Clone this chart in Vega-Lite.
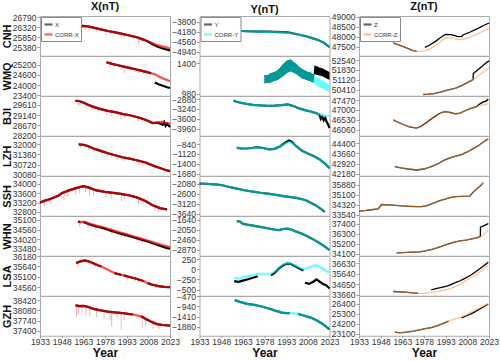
{
"$schema":"https://vega.github.io/schema/vega-lite/v6.json",
"background":"white",
"padding":{"left":0,"top":0,"right":0,"bottom":0},
"data":{"values":[
{"p":"CNHX","t":1957,"o":26290,"k":26290},{"p":"CNHX","t":1960,"o":26360,"k":26360},{"p":"CNHX","t":1963,"o":26380,"k":26380},{"p":"CNHX","t":1966,"o":26360,"k":26360},{"p":"CNHX","t":1970,"o":26300,"k":26300},{"p":"CNHX","t":1975,"o":26220,"k":26220},{"p":"CNHX","t":1980,"o":26140,"k":26140},{"p":"CNHX","t":1985,"o":26080,"k":26080},{"p":"CNHX","t":1990,"o":26010,"k":26010},{"p":"CNHX","t":1995,"o":25930,"k":25930},{"p":"CNHX","t":2000,"o":25850,"k":25850},{"p":"CNHX","t":2005,"o":25730,"k":25730},{"p":"CNHX","t":2008,"o":25640,"k":25650},{"p":"CNHX","t":2010,"o":25560,"k":25600},{"p":"CNHX","t":2013,"o":25450,"k":25510},{"p":"CNHX","t":2015,"o":25400,"k":25470},{"p":"CNHX","t":2018,"o":25330,"k":25420},{"p":"CNHX","t":2020,"o":25290,"k":25390},{"p":"CNHX","t":2023,"o":25240,"k":25330},
{"p":"CNHX","t":1958.2,"a":26310,"b":26050},{"p":"CNHX","t":1960.8,"a":26360,"b":26150},{"p":"CNHX","t":1964.2,"a":26380,"b":26200},{"p":"CNHX","t":1967.1,"a":26350,"b":26150},{"p":"CNHX","t":1972.3,"a":26270,"b":26120},{"p":"CNHX","t":1978.6,"a":26160,"b":25980},{"p":"CNHX","t":1982.1,"a":26110,"b":26000},{"p":"CNHX","t":1989.3,"a":26020,"b":25800},{"p":"CNHX","t":1991.1,"a":25990,"b":25850},{"p":"CNHX","t":1997.2,"a":25900,"b":25780},{"p":"CNHX","t":2001.4,"a":25820,"b":25500},{"p":"CNHX","t":2003.6,"a":25780,"b":25620},{"p":"CNHX","t":2015.2,"a":25470,"b":25380},
{"p":"WMQX","t":1979,"o":25360,"k":25360},{"p":"WMQX","t":1983,"o":25260,"k":25260},{"p":"WMQX","t":1987,"o":25180,"k":25180},{"p":"WMQX","t":1991,"o":25100,"k":25100},{"p":"WMQX","t":1995,"o":25020,"k":25020},{"p":"WMQX","t":1999,"o":24940,"k":24940},{"p":"WMQX","t":2003,"o":24860,"k":24860},{"p":"WMQX","t":2007,"o":24770,"k":24770},{"p":"WMQX","t":2010,"o":24700,"k":24700},{"p":"WMQX","t":2012.5,"o":24150,"k":24640,"g":2},{"p":"WMQX","t":2015,"o":24050,"k":24530,"g":2},{"p":"WMQX","t":2018,"o":23960,"k":24410,"g":2},{"p":"WMQX","t":2021,"o":23870,"k":24300,"g":2},{"p":"WMQX","t":2023,"o":23820,"k":24230,"g":2},
{"p":"WMQX","t":1981.5,"a":25290,"b":25050},{"p":"WMQX","t":1984.3,"a":25230,"b":25080},{"p":"WMQX","t":1989.2,"a":25140,"b":24900},{"p":"WMQX","t":1991.4,"a":25100,"b":24700},{"p":"WMQX","t":1995.6,"a":25010,"b":24850},{"p":"WMQX","t":1998.7,"a":24950,"b":24750},{"p":"WMQX","t":2001.3,"a":24900,"b":24700},{"p":"WMQX","t":2004.8,"a":24820,"b":24650},{"p":"WMQX","t":2015.6,"a":24510,"b":24350},
{"p":"BJIX","t":1957.5,"o":29800,"k":29800},{"p":"BJIX","t":1960,"o":29790,"k":29790},{"p":"BJIX","t":1963,"o":29720,"k":29720},{"p":"BJIX","t":1967,"o":29600,"k":29600},{"p":"BJIX","t":1971,"o":29500,"k":29500},{"p":"BJIX","t":1975,"o":29420,"k":29420},{"p":"BJIX","t":1980,"o":29340,"k":29340},{"p":"BJIX","t":1985,"o":29280,"k":29280},{"p":"BJIX","t":1990,"o":29200,"k":29200},{"p":"BJIX","t":1995,"o":29140,"k":29140},{"p":"BJIX","t":2000,"o":29060,"k":29060},{"p":"BJIX","t":2004,"o":28980,"k":28980},{"p":"BJIX","t":2008,"o":28880,"k":28880},{"p":"BJIX","t":2011,"o":28780,"k":28780},{"p":"BJIX","t":2014,"o":28800,"k":28800},{"p":"BJIX","t":2016,"o":28760,"k":28820},{"p":"BJIX","t":2018,"o":28700,"k":28850},{"p":"BJIX","t":2019,"o":28820,"k":28830},{"p":"BJIX","t":2020,"o":28650,"k":28790},{"p":"BJIX","t":2021,"o":28750,"k":28780},{"p":"BJIX","t":2023,"o":28600,"k":28760},
{"p":"BJIX","t":1959.4,"a":29790,"b":29550},{"p":"BJIX","t":1960.6,"a":29790,"b":29600},{"p":"BJIX","t":1965.3,"a":29650,"b":29450},{"p":"BJIX","t":1968.9,"a":29570,"b":29380},{"p":"BJIX","t":1973.6,"a":29450,"b":29300},{"p":"BJIX","t":1979.2,"a":29350,"b":29150},{"p":"BJIX","t":1982.4,"a":29310,"b":29100},{"p":"BJIX","t":1989.1,"a":29210,"b":28950},{"p":"BJIX","t":1991.6,"a":29180,"b":29000},{"p":"BJIX","t":2000.8,"a":29050,"b":28850},{"p":"BJIX","t":2003.7,"a":28990,"b":28800},
{"p":"LZHX","t":1959.8,"o":31980,"k":31980},{"p":"LZHX","t":1963,"o":31960,"k":31960},{"p":"LZHX","t":1966,"o":31880,"k":31880},{"p":"LZHX","t":1970,"o":31730,"k":31730},{"p":"LZHX","t":1975,"o":31580,"k":31580},{"p":"LZHX","t":1980,"o":31430,"k":31430},{"p":"LZHX","t":1985,"o":31300,"k":31300},{"p":"LZHX","t":1990,"o":31180,"k":31180},{"p":"LZHX","t":1995,"o":31090,"k":31090},{"p":"LZHX","t":2000,"o":30990,"k":30990},{"p":"LZHX","t":2006,"o":30850,"k":30850},{"p":"LZHX","t":2009,"o":30740,"k":30740},{"p":"LZHX","t":2013,"o":30600,"k":30600},{"p":"LZHX","t":2017,"o":30470,"k":30470},{"p":"LZHX","t":2020,"o":30380,"k":30380},{"p":"LZHX","t":2023,"o":30310,"k":30310},
{"p":"LZHX","t":1960.9,"a":31990,"b":31750},{"p":"LZHX","t":1966.8,"a":31860,"b":31600},{"p":"LZHX","t":1970.5,"a":31720,"b":31500},{"p":"LZHX","t":1975.4,"a":31570,"b":31350},{"p":"LZHX","t":1979.6,"a":31440,"b":31200},{"p":"LZHX","t":1982.2,"a":31360,"b":31150},{"p":"LZHX","t":1986.5,"a":31270,"b":31000},{"p":"LZHX","t":1989.3,"a":31200,"b":31000},{"p":"LZHX","t":1991.7,"a":31150,"b":30950},{"p":"LZHX","t":2001.4,"a":30970,"b":30700},{"p":"LZHX","t":2004.1,"a":30900,"b":30650},{"p":"LZHX","t":2012.3,"a":30620,"b":30450},
{"p":"SSHX","t":1933,"o":33200,"k":33200},{"p":"SSHX","t":1936,"o":33270,"k":33270},{"p":"SSHX","t":1940,"o":33350,"k":33350},{"p":"SSHX","t":1944,"o":33450,"k":33450},{"p":"SSHX","t":1946,"o":33500,"k":33500},{"p":"SSHX","t":1948,"o":33600,"k":33600},{"p":"SSHX","t":1953,"o":33720,"k":33720},{"p":"SSHX","t":1958,"o":33820,"k":33820},{"p":"SSHX","t":1963,"o":33900,"k":33900},{"p":"SSHX","t":1967,"o":33840,"k":33840},{"p":"SSHX","t":1972,"o":33720,"k":33720},{"p":"SSHX","t":1978,"o":33660,"k":33660},{"p":"SSHX","t":1985,"o":33600,"k":33600},{"p":"SSHX","t":1990,"o":33560,"k":33560},{"p":"SSHX","t":1995,"o":33500,"k":33500},{"p":"SSHX","t":2000,"o":33420,"k":33420},{"p":"SSHX","t":2006,"o":33260,"k":33260},{"p":"SSHX","t":2011,"o":33080,"k":33080},{"p":"SSHX","t":2016,"o":32960,"k":32960},{"p":"SSHX","t":2021,"o":32900,"k":32900},
{"p":"SSHX","t":1936.2,"a":33270,"b":33050},{"p":"SSHX","t":1940.5,"a":33350,"b":33150},{"p":"SSHX","t":1949.6,"a":33620,"b":33300},{"p":"SSHX","t":1952.3,"a":33700,"b":33450},{"p":"SSHX","t":1957.8,"a":33810,"b":33550},{"p":"SSHX","t":1960.2,"a":33860,"b":33600},{"p":"SSHX","t":1964.5,"a":33900,"b":33650},{"p":"SSHX","t":1967.3,"a":33830,"b":33500},{"p":"SSHX","t":1970.1,"a":33760,"b":33500},{"p":"SSHX","t":1978.6,"a":33660,"b":33450},{"p":"SSHX","t":1982.3,"a":33630,"b":33350},{"p":"SSHX","t":1989.5,"a":33560,"b":33250},{"p":"SSHX","t":1991.4,"a":33540,"b":33350},{"p":"SSHX","t":2001.2,"a":33400,"b":33150},{"p":"SSHX","t":2004.3,"a":33320,"b":33100},{"p":"SSHX","t":2012.6,"a":33040,"b":32850},{"p":"SSHX","t":2015.1,"a":32980,"b":32800},
{"p":"WHNX","t":1959.3,"o":35000,"k":35000,"g":1},{"p":"WHNX","t":1961,"o":34980,"k":34980,"g":1},{"p":"WHNX","t":1963,"o":34990,"k":35000},{"p":"WHNX","t":1967,"o":34860,"k":34900},{"p":"WHNX","t":1972,"o":34730,"k":34780},{"p":"WHNX","t":1977,"o":34630,"k":34690},{"p":"WHNX","t":1982,"o":34500,"k":34560},{"p":"WHNX","t":1987,"o":34370,"k":34430},{"p":"WHNX","t":1992,"o":34260,"k":34320},{"p":"WHNX","t":1997,"o":34140,"k":34200},{"p":"WHNX","t":2002,"o":34020,"k":34080},{"p":"WHNX","t":2007,"o":33900,"k":33960},{"p":"WHNX","t":2012,"o":33760,"k":33830},{"p":"WHNX","t":2017,"o":33620,"k":33710},{"p":"WHNX","t":2021,"o":33520,"k":33620},{"p":"WHNX","t":2023,"o":33480,"k":33580},
{"p":"WHNX","t":1960.5,"a":34990,"b":34700},{"p":"WHNX","t":1966.2,"a":34920,"b":34650},{"p":"WHNX","t":1971.5,"a":34790,"b":34550},{"p":"WHNX","t":1976.4,"a":34700,"b":34500},{"p":"WHNX","t":1982.6,"a":34550,"b":34300},{"p":"WHNX","t":1989.3,"a":34390,"b":34150},{"p":"WHNX","t":1991.6,"a":34340,"b":34100},{"p":"WHNX","t":2001.4,"a":34100,"b":33850},{"p":"WHNX","t":2003.9,"a":34040,"b":33800},{"p":"WHNX","t":2015.2,"a":33750,"b":33580},
{"p":"LSAX","t":1958,"o":35820,"k":35820,"g":1},{"p":"LSAX","t":1961,"o":35900,"k":35900,"g":1},{"p":"LSAX","t":1964,"o":35950,"k":35950,"g":1},{"p":"LSAX","t":1967,"o":35900,"k":35900,"g":1},{"p":"LSAX","t":1970,"o":35800,"k":35800,"g":1},{"p":"LSAX","t":1973,"o":35700,"k":35700,"g":1},{"p":"LSAX","t":1975.5,"o":35640,"k":35640,"g":1},{"p":"LSAX","t":1984.5,"o":35300,"k":35300,"g":2},{"p":"LSAX","t":1987,"o":35250,"k":35250,"g":2},{"p":"LSAX","t":1989.5,"o":35200,"k":35200,"g":2},{"p":"LSAX","t":1991,"o":35180,"k":35180,"g":3},{"p":"LSAX","t":1995,"o":35100,"k":35100,"g":3},{"p":"LSAX","t":1999,"o":35020,"k":35020,"g":3},{"p":"LSAX","t":2003,"o":34930,"k":34930,"g":3},{"p":"LSAX","t":2005,"o":34880,"k":34880,"g":3},{"p":"LSAX","t":2007.5,"o":34780,"k":34780},{"p":"LSAX","t":2011,"o":34700,"k":34700},{"p":"LSAX","t":2015,"o":34630,"k":34630},{"p":"LSAX","t":2019,"o":34590,"k":34590},{"p":"LSAX","t":2023,"o":34570,"k":34570},
{"p":"LSAX","t":1959.2,"a":35850,"b":35600},{"p":"LSAX","t":1966.4,"a":35920,"b":35750},{"p":"LSAX","t":1971.3,"a":35780,"b":35600},{"p":"LSAX","t":1993.2,"a":35140,"b":34950},{"p":"LSAX","t":1998.6,"a":35030,"b":34850},{"p":"LSAX","t":2001.3,"a":34970,"b":34800},{"p":"LSAX","t":2009.5,"a":34740,"b":34600},{"p":"LSAX","t":2013.2,"a":34660,"b":34520},
{"p":"GZHX","t":1957.6,"o":38250,"k":38250,"g":1},{"p":"GZHX","t":1960,"o":38220,"k":38220,"g":1},{"p":"GZHX","t":1963,"o":38230,"k":38230,"g":1},{"p":"GZHX","t":1966,"o":38200,"k":38200,"g":1},{"p":"GZHX","t":1970,"o":38130,"k":38130,"g":1},{"p":"GZHX","t":1975,"o":38080,"k":38080,"g":1},{"p":"GZHX","t":1980,"o":38040,"k":38040,"g":1},{"p":"GZHX","t":1985,"o":38010,"k":38010,"g":1},{"p":"GZHX","t":1990,"o":37990,"k":37990,"g":1},{"p":"GZHX","t":1994,"o":37960,"k":37960,"g":1},{"p":"GZHX","t":1997.5,"o":37940,"k":37940,"g":1},{"p":"GZHX","t":2003,"o":37880,"k":37880},{"p":"GZHX","t":2006,"o":37800,"k":37800},{"p":"GZHX","t":2010,"o":37700,"k":37700},{"p":"GZHX","t":2014,"o":37620,"k":37620},{"p":"GZHX","t":2018,"o":37590,"k":37590},{"p":"GZHX","t":2023,"o":37570,"k":37570},
{"p":"GZHX","t":1958.3,"a":38250,"b":37850},{"p":"GZHX","t":1959.5,"a":38230,"b":37950},{"p":"GZHX","t":1962.1,"a":38230,"b":38000},{"p":"GZHX","t":1964.7,"a":38220,"b":37950},{"p":"GZHX","t":1967.4,"a":38180,"b":37900},{"p":"GZHX","t":1972.2,"a":38110,"b":37850},{"p":"GZHX","t":1977.3,"a":38060,"b":37800},{"p":"GZHX","t":1981.5,"a":38030,"b":37750},{"p":"GZHX","t":1982.6,"a":38030,"b":37550},{"p":"GZHX","t":1986.4,"a":38000,"b":37800},{"p":"GZHX","t":1989.2,"a":37990,"b":37450},{"p":"GZHX","t":1991.3,"a":37980,"b":37750},{"p":"GZHX","t":2003.8,"a":37870,"b":37500},{"p":"GZHX","t":2006.2,"a":37800,"b":37550},{"p":"GZHX","t":2011.4,"a":37680,"b":37450},{"p":"GZHX","t":2015.3,"a":37610,"b":37450},
{"p":"CNHY","t":1956.5,"o":-4080,"k":-4080},{"p":"CNHY","t":1958,"o":-4120,"k":-4120},{"p":"CNHY","t":1961,"o":-4140,"k":-4140},{"p":"CNHY","t":1965,"o":-4160,"k":-4160},{"p":"CNHY","t":1970,"o":-4165,"k":-4165},{"p":"CNHY","t":1975,"o":-4175,"k":-4175},{"p":"CNHY","t":1980,"o":-4170,"k":-4185},{"p":"CNHY","t":1985,"o":-4180,"k":-4195},{"p":"CNHY","t":1990,"o":-4190,"k":-4205},{"p":"CNHY","t":1995,"o":-4210,"k":-4225},{"p":"CNHY","t":1999,"o":-4255,"k":-4255},{"p":"CNHY","t":2003,"o":-4300,"k":-4300},{"p":"CNHY","t":2007,"o":-4350,"k":-4350},{"p":"CNHY","t":2011,"o":-4420,"k":-4420},{"p":"CNHY","t":2015,"o":-4490,"k":-4490},{"p":"CNHY","t":2019,"o":-4590,"k":-4590},{"p":"CNHY","t":2023,"o":-4760,"k":-4760},
{"p":"WMQY","t":1978,"h":1240,"l":1120,"H":1240,"L":1120},{"p":"WMQY","t":1980,"h":1230,"l":1130,"H":1230,"L":1130},{"p":"WMQY","t":1982,"h":1260,"l":1130,"H":1260,"L":1130},{"p":"WMQY","t":1984,"h":1270,"l":1150,"H":1270,"L":1150},{"p":"WMQY","t":1986,"h":1290,"l":1160,"H":1290,"L":1160},{"p":"WMQY","t":1988,"h":1320,"l":1180,"H":1320,"L":1180},{"p":"WMQY","t":1990,"h":1370,"l":1210,"H":1370,"L":1210},{"p":"WMQY","t":1992,"h":1410,"l":1240,"H":1410,"L":1240},{"p":"WMQY","t":1994,"h":1440,"l":1270,"H":1440,"L":1270},{"p":"WMQY","t":1996,"h":1450,"l":1290,"H":1450,"L":1290},{"p":"WMQY","t":1998,"h":1420,"l":1270,"H":1420,"L":1270},{"p":"WMQY","t":2000,"h":1390,"l":1250,"H":1390,"L":1250},{"p":"WMQY","t":2002,"h":1350,"l":1220,"H":1350,"L":1220},{"p":"WMQY","t":2004,"h":1320,"l":1190,"H":1320,"L":1190},{"p":"WMQY","t":2006,"h":1300,"l":1180,"H":1300,"L":1180},{"p":"WMQY","t":2008,"h":1280,"l":1160,"H":1280,"L":1160},{"p":"WMQY","t":2010,"h":1270,"l":1150,"H":1270,"L":1150},{"p":"WMQY","t":2012,"h":1240,"l":1130,"H":1240,"L":1130},{"p":"WMQY","t":2012.5,"h":1370,"l":1250,"H":1220,"L":1110},{"p":"WMQY","t":2014,"h":1360,"l":1240,"H":1200,"L":1090},{"p":"WMQY","t":2016,"h":1340,"l":1230,"H":1190,"L":1070},{"p":"WMQY","t":2018,"h":1330,"l":1220,"H":1160,"L":1050},{"p":"WMQY","t":2020,"h":1310,"l":1200,"H":1140,"L":1030},{"p":"WMQY","t":2022,"h":1290,"l":1180,"H":1110,"L":1010},{"p":"WMQY","t":2023,"h":1280,"l":1170,"H":1100,"L":1000},
{"p":"BJIY","t":1956.5,"o":-2930,"k":-2930},{"p":"BJIY","t":1958,"o":-2970,"k":-2970},{"p":"BJIY","t":1962,"o":-3020,"k":-3020},{"p":"BJIY","t":1966,"o":-3060,"k":-3060},{"p":"BJIY","t":1970,"o":-3090,"k":-3090},{"p":"BJIY","t":1975,"o":-3110,"k":-3110},{"p":"BJIY","t":1980,"o":-3125,"k":-3125},{"p":"BJIY","t":1985,"o":-3120,"k":-3120},{"p":"BJIY","t":1990,"o":-3100,"k":-3100},{"p":"BJIY","t":1994,"o":-3075,"k":-3075},{"p":"BJIY","t":1998,"o":-3130,"k":-3130},{"p":"BJIY","t":2002,"o":-3220,"k":-3220},{"p":"BJIY","t":2006,"o":-3280,"k":-3280},{"p":"BJIY","t":2010,"o":-3330,"k":-3330},{"p":"BJIY","t":2013,"o":-3380,"k":-3380},{"p":"BJIY","t":2016,"o":-3440,"k":-3430},{"p":"BJIY","t":2017,"o":-3600,"k":-3445},{"p":"BJIY","t":2018,"o":-3520,"k":-3460},{"p":"BJIY","t":2019,"o":-3650,"k":-3470},{"p":"BJIY","t":2020,"o":-3560,"k":-3480},{"p":"BJIY","t":2021,"o":-3700,"k":-3485},{"p":"BJIY","t":2022,"o":-3800,"k":-3490},{"p":"BJIY","t":2023,"o":-3930,"k":-3500},
{"p":"LZHY","t":1958.8,"o":-950,"k":-950},{"p":"LZHY","t":1962,"o":-960,"k":-960},{"p":"LZHY","t":1966,"o":-965,"k":-965},{"p":"LZHY","t":1970,"o":-945,"k":-945},{"p":"LZHY","t":1973,"o":-925,"k":-925},{"p":"LZHY","t":1977,"o":-950,"k":-950},{"p":"LZHY","t":1981,"o":-990,"k":-990},{"p":"LZHY","t":1985,"o":-975,"k":-975},{"p":"LZHY","t":1989,"o":-900,"k":-900},{"p":"LZHY","t":1992,"o":-810,"k":-830},{"p":"LZHY","t":1995,"o":-740,"k":-775},{"p":"LZHY","t":1997,"o":-780,"k":-800},{"p":"LZHY","t":2000,"o":-900,"k":-900},{"p":"LZHY","t":2004,"o":-1030,"k":-1030},{"p":"LZHY","t":2008,"o":-1110,"k":-1110},{"p":"LZHY","t":2012,"o":-1180,"k":-1180},{"p":"LZHY","t":2016,"o":-1270,"k":-1270},{"p":"LZHY","t":2020,"o":-1400,"k":-1400},{"p":"LZHY","t":2023,"o":-1530,"k":-1530},
{"p":"SSHY","t":1933,"o":-2060,"k":-2060},{"p":"SSHY","t":1937,"o":-2070,"k":-2070},{"p":"SSHY","t":1941,"o":-2090,"k":-2090},{"p":"SSHY","t":1945.4,"o":-2115,"k":-2115},{"p":"SSHY","t":1948.8,"o":-2150,"k":-2150},{"p":"SSHY","t":1953,"o":-2230,"k":-2230},{"p":"SSHY","t":1958,"o":-2310,"k":-2310},{"p":"SSHY","t":1964,"o":-2410,"k":-2410},{"p":"SSHY","t":1970,"o":-2480,"k":-2480},{"p":"SSHY","t":1975,"o":-2540,"k":-2540},{"p":"SSHY","t":1980,"o":-2585,"k":-2585},{"p":"SSHY","t":1986,"o":-2650,"k":-2650},{"p":"SSHY","t":1991,"o":-2720,"k":-2720},{"p":"SSHY","t":1995,"o":-2760,"k":-2760},{"p":"SSHY","t":2000,"o":-2810,"k":-2810},{"p":"SSHY","t":2004,"o":-2880,"k":-2880},{"p":"SSHY","t":2007,"o":-2950,"k":-2950},{"p":"SSHY","t":2010,"o":-3060,"k":-3060},{"p":"SSHY","t":2013,"o":-3180,"k":-3180},{"p":"SSHY","t":2016,"o":-3330,"k":-3330},{"p":"SSHY","t":2019.8,"o":-3540,"k":-3540},
{"p":"WHNY","t":1958.8,"o":-1690,"k":-1690},{"p":"WHNY","t":1961,"o":-1700,"k":-1700},{"p":"WHNY","t":1962.8,"o":-1790,"k":-1790},{"p":"WHNY","t":1966,"o":-1830,"k":-1830},{"p":"WHNY","t":1970,"o":-1870,"k":-1870},{"p":"WHNY","t":1975,"o":-1925,"k":-1925},{"p":"WHNY","t":1980,"o":-1980,"k":-1980},{"p":"WHNY","t":1985,"o":-2040,"k":-2040},{"p":"WHNY","t":1988,"o":-2060,"k":-2060},{"p":"WHNY","t":1991,"o":-2010,"k":-2010},{"p":"WHNY","t":1994,"o":-1995,"k":-1995},{"p":"WHNY","t":1997,"o":-2040,"k":-2040},{"p":"WHNY","t":2000,"o":-2120,"k":-2120},{"p":"WHNY","t":2004,"o":-2210,"k":-2210},{"p":"WHNY","t":2008,"o":-2320,"k":-2320},{"p":"WHNY","t":2012,"o":-2450,"k":-2450},{"p":"WHNY","t":2016,"o":-2590,"k":-2590},{"p":"WHNY","t":2020,"o":-2750,"k":-2750},{"p":"WHNY","t":2023,"o":-2880,"k":-2880},
{"p":"LSAY","t":1957,"o":-290,"k":-210,"g":1},{"p":"LSAY","t":1960,"o":-310,"k":-230,"g":1},{"p":"LSAY","t":1963,"o":-280,"k":-200,"g":1},{"p":"LSAY","t":1966,"o":-250,"k":-175,"g":1},{"p":"LSAY","t":1970,"o":-210,"k":-140,"g":1},{"p":"LSAY","t":1973.3,"o":-170,"k":-110,"g":1},{"p":"LSAY","t":1982.5,"o":-150,"k":-110,"g":2},{"p":"LSAY","t":1985,"o":-90,"k":-60,"g":2},{"p":"LSAY","t":1988,"o":20,"k":40,"g":2},{"p":"LSAY","t":1991,"o":100,"k":120,"g":2},{"p":"LSAY","t":1994,"o":145,"k":160,"g":2},{"p":"LSAY","t":1996,"o":135,"k":150,"g":2},{"p":"LSAY","t":1999,"o":80,"k":100,"g":2},{"p":"LSAY","t":2002,"o":20,"k":40,"g":2},{"p":"LSAY","t":2005,"o":-30,"k":0,"g":2},{"p":"LSAY","t":2006,"o":-330,"k":10},{"p":"LSAY","t":2009,"o":-360,"k":50},{"p":"LSAY","t":2012,"o":-300,"k":90},{"p":"LSAY","t":2014,"o":-250,"k":100},{"p":"LSAY","t":2016,"o":-300,"k":60},{"p":"LSAY","t":2019,"o":-370,"k":0},{"p":"LSAY","t":2021,"o":-400,"k":-50},{"p":"LSAY","t":2023,"o":-470,"k":-80},
{"p":"GZHY","t":1957.4,"o":-660,"k":-660,"g":1},{"p":"GZHY","t":1961,"o":-740,"k":-740,"g":1},{"p":"GZHY","t":1966,"o":-830,"k":-830,"g":1},{"p":"GZHY","t":1971,"o":-880,"k":-880,"g":1},{"p":"GZHY","t":1976,"o":-950,"k":-950,"g":1},{"p":"GZHY","t":1981,"o":-1040,"k":-1040,"g":1},{"p":"GZHY","t":1986,"o":-1150,"k":-1150,"g":1},{"p":"GZHY","t":1990,"o":-1230,"k":-1230,"g":1},{"p":"GZHY","t":1993,"o":-1250,"k":-1250,"g":1},{"p":"GZHY","t":1995.5,"o":-1250,"k":-1250,"g":1},{"p":"GZHY","t":2001.2,"o":-1280,"k":-1280},{"p":"GZHY","t":2005,"o":-1360,"k":-1360},{"p":"GZHY","t":2010,"o":-1460,"k":-1460},{"p":"GZHY","t":2014,"o":-1580,"k":-1580},{"p":"GZHY","t":2018,"o":-1740,"k":-1740},{"p":"GZHY","t":2023,"o":-2000,"k":-2000},
{"p":"CNHZ","t":1956.7,"o":47700,"k":47700,"g":1},{"p":"CNHZ","t":1960,"o":47620,"k":47620,"g":1},{"p":"CNHZ","t":1965,"o":47480,"k":47480,"g":1},{"p":"CNHZ","t":1970,"o":47330,"k":47330,"g":1},{"p":"CNHZ","t":1973,"o":47280,"k":47270,"g":1},{"p":"CNHZ","t":1976,"k":47280},{"p":"CNHZ","t":1978.6,"o":47480,"k":47320},{"p":"CNHZ","t":1982,"o":47600,"k":47400},{"p":"CNHZ","t":1986,"o":47780,"k":47560},{"p":"CNHZ","t":1990,"o":48000,"k":47800},{"p":"CNHZ","t":1993,"o":48130,"k":47960},{"p":"CNHZ","t":1997,"o":48120,"k":47950},{"p":"CNHZ","t":2001,"o":48030,"k":47880},{"p":"CNHZ","t":2004,"o":48020,"k":47870},{"p":"CNHZ","t":2005,"o":48100,"k":47880},{"p":"CNHZ","t":2010,"o":48250,"k":47990},{"p":"CNHZ","t":2015,"o":48420,"k":48150},{"p":"CNHZ","t":2020,"o":48600,"k":48330},{"p":"CNHZ","t":2023,"o":48700,"k":48430},
{"p":"WMQZ","t":1977.4,"o":50060,"k":50060},{"p":"WMQZ","t":1981,"o":50080,"k":50080},{"p":"WMQZ","t":1985,"o":50120,"k":50120},{"p":"WMQZ","t":1990,"o":50250,"k":50250},{"p":"WMQZ","t":1995,"o":50400,"k":50400},{"p":"WMQZ","t":2000,"o":50520,"k":50520},{"p":"WMQZ","t":2005,"o":50750,"k":50750},{"p":"WMQZ","t":2010,"o":51020,"k":51020},{"p":"WMQZ","t":2012,"o":51130,"k":51130},{"p":"WMQZ","t":2012.1,"o":51570,"k":51140},{"p":"WMQZ","t":2016,"o":51900,"k":51450},{"p":"WMQZ","t":2020,"o":52250,"k":51750},{"p":"WMQZ","t":2023,"o":52480,"k":51980},
{"p":"BJIZ","t":1956.7,"o":46530,"k":46530},{"p":"BJIZ","t":1960,"o":46420,"k":46420},{"p":"BJIZ","t":1964,"o":46300,"k":46300},{"p":"BJIZ","t":1968,"o":46200,"k":46200},{"p":"BJIZ","t":1972.8,"o":46140,"k":46140},{"p":"BJIZ","t":1976,"o":46230,"k":46200},{"p":"BJIZ","t":1980,"o":46420,"k":46380},{"p":"BJIZ","t":1984,"o":46620,"k":46580},{"p":"BJIZ","t":1988,"o":46810,"k":46780},{"p":"BJIZ","t":1991,"o":46900,"k":46900},{"p":"BJIZ","t":1993,"o":46920,"k":46920},{"p":"BJIZ","t":1996,"o":46880,"k":46880},{"p":"BJIZ","t":2000,"o":46820,"k":46820},{"p":"BJIZ","t":2003,"o":46850,"k":46850},{"p":"BJIZ","t":2006,"o":46950,"k":46950},{"p":"BJIZ","t":2010,"o":47060,"k":47060},{"p":"BJIZ","t":2014,"o":47140,"k":47140},{"p":"BJIZ","t":2017,"o":47300,"k":47200},{"p":"BJIZ","t":2019,"o":47380,"k":47240},{"p":"BJIZ","t":2021,"o":47420,"k":47270},{"p":"BJIZ","t":2022.5,"o":47520,"k":47290},
{"p":"LZHZ","t":1957.8,"o":42700,"k":42700},{"p":"LZHZ","t":1962,"o":42610,"k":42610},{"p":"LZHZ","t":1967,"o":42520,"k":42520},{"p":"LZHZ","t":1972.8,"o":42450,"k":42450},{"p":"LZHZ","t":1978,"o":42520,"k":42520},{"p":"LZHZ","t":1983,"o":42700,"k":42700},{"p":"LZHZ","t":1988,"o":42920,"k":42920},{"p":"LZHZ","t":1992,"o":43170,"k":43170},{"p":"LZHZ","t":1996,"o":43330,"k":43330},{"p":"LZHZ","t":2000,"o":43450,"k":43450},{"p":"LZHZ","t":2004,"o":43560,"k":43560},{"p":"LZHZ","t":2008,"o":43760,"k":43760},{"p":"LZHZ","t":2012,"o":44000,"k":44000},{"p":"LZHZ","t":2016,"o":44250,"k":44250},{"p":"LZHZ","t":2020,"o":44550,"k":44550},{"p":"LZHZ","t":2022.5,"o":44700,"k":44700},
{"p":"SSHZ","t":1933,"o":33830,"k":33830},{"p":"SSHZ","t":1938,"o":33880,"k":33880},{"p":"SSHZ","t":1943,"o":33950,"k":33950},{"p":"SSHZ","t":1946.3,"o":33990,"k":33990},{"p":"SSHZ","t":1948.6,"o":34340,"k":34340},{"p":"SSHZ","t":1953,"o":34310,"k":34310},{"p":"SSHZ","t":1958,"o":34270,"k":34270},{"p":"SSHZ","t":1963,"o":34230,"k":34230},{"p":"SSHZ","t":1968,"o":34200,"k":34200},{"p":"SSHZ","t":1973,"o":34180,"k":34180},{"p":"SSHZ","t":1976.3,"o":34170,"k":34170},{"p":"SSHZ","t":1980,"o":34260,"k":34260},{"p":"SSHZ","t":1984,"o":34430,"k":34430},{"p":"SSHZ","t":1988,"o":34600,"k":34600},{"p":"SSHZ","t":1992,"o":34750,"k":34750},{"p":"SSHZ","t":1996,"o":34880,"k":34880},{"p":"SSHZ","t":2000,"o":34960,"k":34960},{"p":"SSHZ","t":2004,"o":34980,"k":34980},{"p":"SSHZ","t":2009.5,"o":34990,"k":34990},{"p":"SSHZ","t":2012,"o":35300,"k":35300},{"p":"SSHZ","t":2015,"o":35620,"k":35620},{"p":"SSHZ","t":2017,"o":35800,"k":35800},{"p":"SSHZ","t":2019,"o":36040,"k":36040},
{"p":"WHNZ","t":1959,"o":34200,"k":34200},{"p":"WHNZ","t":1963,"o":34230,"k":34230},{"p":"WHNZ","t":1967,"o":34250,"k":34250},{"p":"WHNZ","t":1971,"o":34280,"k":34280},{"p":"WHNZ","t":1975,"o":34320,"k":34320},{"p":"WHNZ","t":1979,"o":34420,"k":34420},{"p":"WHNZ","t":1983,"o":34550,"k":34550},{"p":"WHNZ","t":1987,"o":34750,"k":34750},{"p":"WHNZ","t":1991,"o":34980,"k":34980},{"p":"WHNZ","t":1995,"o":35200,"k":35200},{"p":"WHNZ","t":1999,"o":35400,"k":35400},{"p":"WHNZ","t":2003,"o":35530,"k":35530},{"p":"WHNZ","t":2007,"o":35620,"k":35620},{"p":"WHNZ","t":2011,"o":35750,"k":35750},{"p":"WHNZ","t":2015,"o":35880,"k":35880},{"p":"WHNZ","t":2017,"o":36000,"k":36000},{"p":"WHNZ","t":2017.1,"o":37050,"k":36010},{"p":"WHNZ","t":2020,"o":37250,"k":36350},{"p":"WHNZ","t":2022.5,"o":37430,"k":36700},
{"p":"LSAZ","t":1956.7,"o":33960,"k":33960,"g":1},{"p":"LSAZ","t":1960,"o":33940,"k":33940,"g":1},{"p":"LSAZ","t":1965,"o":33900,"k":33900,"g":1},{"p":"LSAZ","t":1970,"o":33830,"k":33830,"g":1},{"p":"LSAZ","t":1974,"o":33790,"k":33790,"g":1},{"p":"LSAZ","t":1978,"k":33790},{"p":"LSAZ","t":1983,"o":34120,"k":33860},{"p":"LSAZ","t":1987,"o":34250,"k":33960},{"p":"LSAZ","t":1991,"o":34380,"k":34080},{"p":"LSAZ","t":1995,"o":34520,"k":34190},{"p":"LSAZ","t":1999,"o":34750,"k":34400},{"p":"LSAZ","t":2003,"o":34980,"k":34650},{"p":"LSAZ","t":2006,"o":35180,"k":34920},{"p":"LSAZ","t":2010,"o":35480,"k":35220},{"p":"LSAZ","t":2014,"o":35850,"k":35560},{"p":"LSAZ","t":2018,"o":36250,"k":35960},{"p":"LSAZ","t":2022.5,"o":36730,"k":36430},
{"p":"GZHZ","t":1957.8,"o":23280,"k":23280,"g":1},{"p":"GZHZ","t":1960,"o":23220,"k":23220,"g":1},{"p":"GZHZ","t":1963,"o":23230,"k":23230,"g":1},{"p":"GZHZ","t":1967,"o":23300,"k":23300,"g":1},{"p":"GZHZ","t":1971,"o":23400,"k":23400,"g":1},{"p":"GZHZ","t":1975,"o":23520,"k":23520,"g":1},{"p":"GZHZ","t":1979,"o":23660,"k":23660,"g":1},{"p":"GZHZ","t":1983,"o":23780,"k":23780,"g":1},{"p":"GZHZ","t":1987,"o":23980,"k":23980,"g":1},{"p":"GZHZ","t":1991,"o":24220,"k":24220,"g":1},{"p":"GZHZ","t":1995,"o":24500,"k":24500,"g":1},{"p":"GZHZ","t":1999,"k":24720},{"p":"GZHZ","t":2004,"o":24860,"k":24970},{"p":"GZHZ","t":2008,"o":25120,"k":25250},{"p":"GZHZ","t":2012,"o":25410,"k":25600},{"p":"GZHZ","t":2016,"o":25780,"k":25950},{"p":"GZHZ","t":2020,"o":26150,"k":26250},{"p":"GZHZ","t":2022.5,"o":26400,"k":26420}
]},
"concat":[
{"title":"X(nT)","transform":[{"filter":"datum.p=='CNHX'"}],"encoding":{"x":{"field":"t","type":"quantitative","scale":{"domain":[1933,2023]},"axis":null},"y":{"field":"o","type":"quantitative","scale":{"domain":[24990,26840],"nice":false,"zero":false},"axis":{"values":[25380,25850,26320,26790],"title":"CNH"}}},"layer":[{"mark":"rule","encoding":{"y":{"field":"a","type":"quantitative"},"y2":{"field":"b"}}},{"mark":"line","encoding":{"detail":{"field":"g"},"color":{"datum":"X","scale":{"domain":["X","CORR-X"],"range":["#000","#f00"]},"legend":{"title":null}}}},{"mark":{"type":"line","opacity":0.7},"encoding":{"y":{"field":"k","type":"quantitative"},"color":{"datum":"CORR-X"}}}]},
{"title":"Y(nT)","transform":[{"filter":"datum.p=='CNHY'"}],"encoding":{"x":{"field":"t","type":"quantitative","scale":{"domain":[1933,2023]},"axis":null},"y":{"field":"o","type":"quantitative","scale":{"domain":[-5090,-3580],"nice":false,"zero":false},"axis":{"values":[-4940,-4560,-4180,-3800],"title":null}}},"layer":[{"mark":"line","encoding":{"detail":{"field":"g"},"color":{"datum":"Y","scale":{"domain":["Y","CORR-Y"],"range":["#000","#0ff"]},"legend":{"title":null}}}},{"mark":{"type":"line","opacity":0.6},"encoding":{"y":{"field":"k","type":"quantitative"},"color":{"datum":"CORR-Y"}}}]},
{"title":"Z(nT)","transform":[{"filter":"datum.p=='CNHZ'"}],"encoding":{"x":{"field":"t","type":"quantitative","scale":{"domain":[1933,2023]},"axis":null},"y":{"field":"o","type":"quantitative","scale":{"domain":[47060,49050],"nice":false,"zero":false},"axis":{"values":[47500,48000,48500,49000],"title":null}}},"layer":[{"mark":{"type":"line","strokeWidth":1.3},"encoding":{"detail":{"field":"g"},"color":{"datum":"Z","scale":{"domain":["Z","CORR-Z"],"range":["#000","#ff9a40"]},"legend":{"title":null}}}},{"mark":{"type":"line","opacity":0.6,"strokeWidth":1.3},"encoding":{"y":{"field":"k","type":"quantitative"},"color":{"datum":"CORR-Z"}}}]},
{"transform":[{"filter":"datum.p=='WMQX'"}],"encoding":{"x":{"field":"t","type":"quantitative","scale":{"domain":[1933,2023]},"axis":null},"y":{"field":"o","type":"quantitative","scale":{"domain":[23360,25730],"nice":false,"zero":false},"axis":{"values":[23400,24000,24600,25200],"title":"WMQ"}}},"layer":[{"mark":"rule","encoding":{"y":{"field":"a","type":"quantitative"},"y2":{"field":"b"}}},{"mark":{"type":"line","color":"#000"},"encoding":{"detail":{"field":"g"}}},{"mark":{"type":"line","color":"#f00","opacity":0.7},"encoding":{"y":{"field":"k","type":"quantitative"}}}]},
{"transform":[{"filter":"datum.p=='WMQY'"}],"encoding":{"x":{"field":"t","type":"quantitative","scale":{"domain":[1933,2023]},"axis":null}},"layer":[{"mark":{"type":"area","color":"#000"},"encoding":{"y":{"field":"h","type":"quantitative","scale":{"domain":[950,1500],"nice":false,"zero":false},"axis":{"values":[980,1120,1260,1400],"title":null}},"y2":{"field":"l"}}},{"mark":{"type":"area","color":"#0ff","opacity":0.6},"encoding":{"y":{"field":"H","type":"quantitative"},"y2":{"field":"L"}}}]},
{"transform":[{"filter":"datum.p=='WMQZ'"}],"encoding":{"x":{"field":"t","type":"quantitative","scale":{"domain":[1933,2023]},"axis":null},"y":{"field":"o","type":"quantitative","scale":{"domain":[49970,52830],"nice":false,"zero":false},"axis":{"values":[50410,51120,51830,52540],"title":null}}},"layer":[{"mark":{"type":"line","color":"#000","strokeWidth":1.3},"encoding":{"detail":{"field":"g"}}},{"mark":{"type":"line","color":"#ff9a40","opacity":0.6,"strokeWidth":1.3},"encoding":{"y":{"field":"k","type":"quantitative"}}}]},
{"transform":[{"filter":"datum.p=='BJIX'"}],"encoding":{"x":{"field":"t","type":"quantitative","scale":{"domain":[1933,2023]},"axis":null},"y":{"field":"o","type":"quantitative","scale":{"domain":[28200,30020],"nice":false,"zero":false},"axis":{"values":[28200,28670,29140,29610],"title":"BJI"}}},"layer":[{"mark":"rule","encoding":{"y":{"field":"a","type":"quantitative"},"y2":{"field":"b"}}},{"mark":{"type":"line","color":"#000"},"encoding":{"detail":{"field":"g"}}},{"mark":{"type":"line","color":"#f00","opacity":0.7},"encoding":{"y":{"field":"k","type":"quantitative"}}}]},
{"transform":[{"filter":"datum.p=='BJIY'"}],"encoding":{"x":{"field":"t","type":"quantitative","scale":{"domain":[1933,2023]},"axis":null},"y":{"field":"o","type":"quantitative","scale":{"domain":[-4210,-2770],"nice":false,"zero":false},"axis":{"values":[-3960,-3600,-3240,-2880],"title":null}}},"layer":[{"mark":{"type":"line","color":"#000"},"encoding":{"detail":{"field":"g"}}},{"mark":{"type":"line","color":"#0ff","opacity":0.6},"encoding":{"y":{"field":"k","type":"quantitative"}}}]},
{"transform":[{"filter":"datum.p=='BJIZ'"}],"encoding":{"x":{"field":"t","type":"quantitative","scale":{"domain":[1933,2023]},"axis":null},"y":{"field":"o","type":"quantitative","scale":{"domain":[45780,47660],"nice":false,"zero":false},"axis":{"values":[46060,46530,47000,47470],"title":null}}},"layer":[{"mark":{"type":"line","color":"#000","strokeWidth":1.3},"encoding":{"detail":{"field":"g"}}},{"mark":{"type":"line","color":"#ff9a40","opacity":0.6,"strokeWidth":1.3},"encoding":{"y":{"field":"k","type":"quantitative"}}}]},
{"transform":[{"filter":"datum.p=='LZHX'"}],"encoding":{"x":{"field":"t","type":"quantitative","scale":{"domain":[1933,2023]},"axis":null},"y":{"field":"o","type":"quantitative","scale":{"domain":[30020,32510],"nice":false,"zero":false},"axis":{"values":[30080,30720,31360,32000],"title":"LZH"}}},"layer":[{"mark":"rule","encoding":{"y":{"field":"a","type":"quantitative"},"y2":{"field":"b"}}},{"mark":{"type":"line","color":"#000"},"encoding":{"detail":{"field":"g"}}},{"mark":{"type":"line","color":"#f00","opacity":0.7},"encoding":{"y":{"field":"k","type":"quantitative"}}}]},
{"transform":[{"filter":"datum.p=='LZHY'"}],"encoding":{"x":{"field":"t","type":"quantitative","scale":{"domain":[1933,2023]},"axis":null},"y":{"field":"o","type":"quantitative","scale":{"domain":[-1740,-610],"nice":false,"zero":false},"axis":{"values":[-1680,-1400,-1120,-840],"title":null}}},"layer":[{"mark":{"type":"line","color":"#000"},"encoding":{"detail":{"field":"g"}}},{"mark":{"type":"line","color":"#0ff","opacity":0.6},"encoding":{"y":{"field":"k","type":"quantitative"}}}]},
{"transform":[{"filter":"datum.p=='LZHZ'"}],"encoding":{"x":{"field":"t","type":"quantitative","scale":{"domain":[1933,2023]},"axis":null},"y":{"field":"o","type":"quantitative","scale":{"domain":[42030,44920],"nice":false,"zero":false},"axis":{"values":[42180,42920,43660,44400],"title":null}}},"layer":[{"mark":{"type":"line","color":"#000","strokeWidth":1.3},"encoding":{"detail":{"field":"g"}}},{"mark":{"type":"line","color":"#ff9a40","opacity":0.6,"strokeWidth":1.3},"encoding":{"y":{"field":"k","type":"quantitative"}}}]},
{"transform":[{"filter":"datum.p=='SSHX'"}],"encoding":{"x":{"field":"t","type":"quantitative","scale":{"domain":[1933,2023]},"axis":null},"y":{"field":"o","type":"quantitative","scale":{"domain":[32630,34340],"nice":false,"zero":false},"axis":{"values":[32800,33200,33600,34000],"title":"SSH"}}},"layer":[{"mark":"rule","encoding":{"y":{"field":"a","type":"quantitative"},"y2":{"field":"b"}}},{"mark":{"type":"line","color":"#000"},"encoding":{"detail":{"field":"g"}}},{"mark":{"type":"line","color":"#f00","opacity":0.7},"encoding":{"y":{"field":"k","type":"quantitative"}}}]},
{"transform":[{"filter":"datum.p=='SSHY'"}],"encoding":{"x":{"field":"t","type":"quantitative","scale":{"domain":[1933,2023]},"axis":null},"y":{"field":"o","type":"quantitative","scale":{"domain":[-3745,-1665],"nice":false,"zero":false},"axis":{"values":[-3640,-3120,-2600,-2080],"title":null}}},"layer":[{"mark":{"type":"line","color":"#000"},"encoding":{"detail":{"field":"g"}}},{"mark":{"type":"line","color":"#0ff","opacity":0.6},"encoding":{"y":{"field":"k","type":"quantitative"}}}]},
{"transform":[{"filter":"datum.p=='SSHZ'"}],"encoding":{"x":{"field":"t","type":"quantitative","scale":{"domain":[1933,2023]},"axis":null},"y":{"field":"o","type":"quantitative","scale":{"domain":[33460,36580],"nice":false,"zero":false},"axis":{"values":[33540,34320,35100,35880],"title":null}}},"layer":[{"mark":{"type":"line","color":"#000","strokeWidth":1.3},"encoding":{"detail":{"field":"g"}}},{"mark":{"type":"line","color":"#ff9a40","opacity":0.6,"strokeWidth":1.3},"encoding":{"y":{"field":"k","type":"quantitative"}}}]},
{"transform":[{"filter":"datum.p=='WHNX'"}],"encoding":{"x":{"field":"t","type":"quantitative","scale":{"domain":[1933,2023]},"axis":null},"y":{"field":"o","type":"quantitative","scale":{"domain":[33090,35320],"nice":false,"zero":false},"axis":{"values":[33480,34020,34560,35100],"title":"WHN"}}},"layer":[{"mark":"rule","encoding":{"y":{"field":"a","type":"quantitative"},"y2":{"field":"b"}}},{"mark":{"type":"line","color":"#000"},"encoding":{"detail":{"field":"g"}}},{"mark":{"type":"line","color":"#f00","opacity":0.7},"encoding":{"y":{"field":"k","type":"quantitative"}}}]},
{"transform":[{"filter":"datum.p=='WHNY'"}],"encoding":{"x":{"field":"t","type":"quantitative","scale":{"domain":[1933,2023]},"axis":null},"y":{"field":"o","type":"quantitative","scale":{"domain":[-3115,-1475],"nice":false,"zero":false},"axis":{"values":[-2870,-2460,-2050,-1640],"title":null}}},"layer":[{"mark":{"type":"line","color":"#000"},"encoding":{"detail":{"field":"g"}}},{"mark":{"type":"line","color":"#0ff","opacity":0.6},"encoding":{"y":{"field":"k","type":"quantitative"}}}]},
{"transform":[{"filter":"datum.p=='WHNZ'"}],"encoding":{"x":{"field":"t","type":"quantitative","scale":{"domain":[1933,2023]},"axis":null},"y":{"field":"o","type":"quantitative","scale":{"domain":[33880,38280],"nice":false,"zero":false},"axis":{"values":[34100,35200,36300,37400],"title":null}}},"layer":[{"mark":{"type":"line","color":"#000","strokeWidth":1.3},"encoding":{"detail":{"field":"g"}}},{"mark":{"type":"line","color":"#ff9a40","opacity":0.6,"strokeWidth":1.3},"encoding":{"y":{"field":"k","type":"quantitative"}}}]},
{"transform":[{"filter":"datum.p=='LSAX'"}],"encoding":{"x":{"field":"t","type":"quantitative","scale":{"domain":[1933,2023]},"axis":null},"y":{"field":"o","type":"quantitative","scale":{"domain":[34130,36180],"nice":false,"zero":false},"axis":{"values":[34560,35100,35640,36180],"title":"LSA"}}},"layer":[{"mark":"rule","encoding":{"y":{"field":"a","type":"quantitative"},"y2":{"field":"b"}}},{"mark":{"type":"line","color":"#000"},"encoding":{"detail":{"field":"g"}}},{"mark":{"type":"line","color":"#f00","opacity":0.7},"encoding":{"y":{"field":"k","type":"quantitative"}}}]},
{"transform":[{"filter":"datum.p=='LSAY'"}],"encoding":{"x":{"field":"t","type":"quantitative","scale":{"domain":[1933,2023]},"axis":null},"y":{"field":"o","type":"quantitative","scale":{"domain":[-650,325],"nice":false,"zero":false},"axis":{"values":[-500,-250,0,250],"title":null}}},"layer":[{"mark":{"type":"line","color":"#000"},"encoding":{"detail":{"field":"g"}}},{"mark":{"type":"line","color":"#0ff","opacity":0.6},"encoding":{"y":{"field":"k","type":"quantitative"}}}]},
{"transform":[{"filter":"datum.p=='LSAZ'"}],"encoding":{"x":{"field":"t","type":"quantitative","scale":{"domain":[1933,2023]},"axis":null},"y":{"field":"o","type":"quantitative","scale":{"domain":[33560,37320],"nice":false,"zero":false},"axis":{"values":[33660,34650,35640,36630],"title":null}}},"layer":[{"mark":{"type":"line","color":"#000","strokeWidth":1.3},"encoding":{"detail":{"field":"g"}}},{"mark":{"type":"line","color":"#ff9a40","opacity":0.6,"strokeWidth":1.3},"encoding":{"y":{"field":"k","type":"quantitative"}}}]},
{"transform":[{"filter":"datum.p=='GZHX'"}],"encoding":{"x":{"field":"t","type":"quantitative","scale":{"domain":[1933,2023]},"axis":{"values":[1933,1948,1963,1978,1993,2008,2023],"title":"Year"}},"y":{"field":"o","type":"quantitative","scale":{"domain":[37230,38560],"nice":false,"zero":false},"axis":{"values":[37400,37740,38080,38420],"title":"GZH"}}},"layer":[{"mark":"rule","encoding":{"y":{"field":"a","type":"quantitative"},"y2":{"field":"b"}}},{"mark":{"type":"line","color":"#000"},"encoding":{"detail":{"field":"g"}}},{"mark":{"type":"line","color":"#f00","opacity":0.7},"encoding":{"y":{"field":"k","type":"quantitative"}}}]},
{"transform":[{"filter":"datum.p=='GZHY'"}],"encoding":{"x":{"field":"t","type":"quantitative","scale":{"domain":[1933,2023]},"axis":{"values":[1933,1948,1963,1978,1993,2008,2023],"title":"Year"}},"y":{"field":"o","type":"quantitative","scale":{"domain":[-2290,-470],"nice":false,"zero":false},"axis":{"values":[-1880,-1410,-940,-470],"title":null}}},"layer":[{"mark":{"type":"line","color":"#000"},"encoding":{"detail":{"field":"g"}}},{"mark":{"type":"line","color":"#0ff","opacity":0.6},"encoding":{"y":{"field":"k","type":"quantitative"}}}]},
{"transform":[{"filter":"datum.p=='GZHZ'"}],"encoding":{"x":{"field":"t","type":"quantitative","scale":{"domain":[1933,2023]},"axis":{"values":[1933,1948,1963,1978,1993,2008,2023],"title":"Year"}},"y":{"field":"o","type":"quantitative","scale":{"domain":[22880,27280],"nice":false,"zero":false},"axis":{"values":[23100,24200,25300,26400],"title":null}}},"layer":[{"mark":{"type":"line","color":"#000","strokeWidth":1.3},"encoding":{"detail":{"field":"g"}}},{"mark":{"type":"line","color":"#ff9a40","opacity":0.6,"strokeWidth":1.3},"encoding":{"y":{"field":"k","type":"quantitative"}}}]}
],
"columns":3,
"spacing":{"row":0,"column":29.5},
"bounds":"flush",
"resolve":{"scale":{"x":"independent","y":"independent","color":"independent"}},
"config":{
"font":"Liberation Sans",
"numberFormat":"d",
"view":{"continuousWidth":130,"continuousHeight":39.75,"stroke":"#aaa"},
"mark":{"invalid":"filter"},
"line":{"strokeWidth":2.2},
"rule":{"color":"#d03030","strokeWidth":0.6,"opacity":0.6},
"axis":{"grid":false,"domain":false,"tickColor":"#999","tickSize":3,"labelFontSize":8.5,"labelColor":"#333","labelPadding":1,"labelOverlap":false,"labelFlush":false,"titleFontWeight":"bold","titleColor":"#111"},
"axisY":{"titleFontSize":11,"titlePadding":0},
"axisX":{"titleFontSize":12,"titlePadding":1,"tickSize":2,"labelPadding":0},
"legend":{"orient":"top-left","offset":1,"padding":2,"strokeColor":"#888","fillColor":"#fff","labelFontSize":6,"labelColor":"#333","symbolType":"stroke","symbolSize":64,"symbolStrokeWidth":1,"symbolOpacity":0.6,"rowPadding":0,"labelOffset":1,"cornerRadius":0},
"title":{"fontSize":11,"fontWeight":"bold","offset":1,"color":"#111"}
}
}
